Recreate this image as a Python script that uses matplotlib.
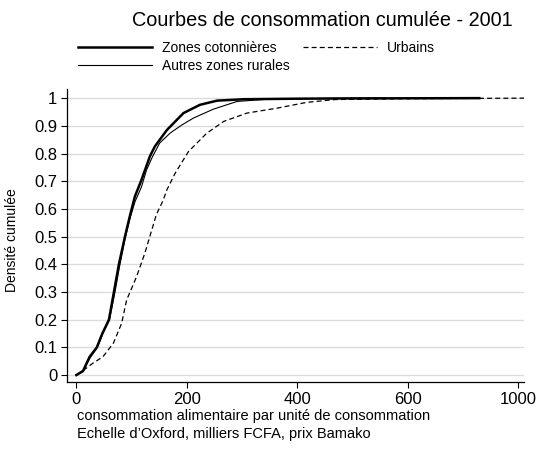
import matplotlib
matplotlib.use("Agg")
import matplotlib.pyplot as plt
from matplotlib.lines import Line2D

plt.rcParams['font.family'] = ['Liberation Sans', 'DejaVu Sans']

# Zones cotonnières (thick)
coton_x = [0, 12, 24, 37, 47, 59, 68, 77, 88, 97, 106, 118, 133, 142, 164, 194, 224, 255, 303, 400, 500, 730]
coton_y = [0, 0.015, 0.066, 0.10, 0.15, 0.20, 0.30, 0.40, 0.50, 0.575, 0.645, 0.705, 0.789, 0.825, 0.885, 0.946, 0.976, 0.991, 0.996, 0.998, 0.999, 1.0]

# Autres zones rurales (thin)
autres_x = [0, 12, 24, 38, 48, 60, 69, 78, 88, 97, 106, 118, 127, 138, 151, 170, 191, 212, 248, 291, 345, 450, 560]
autres_y = [0, 0.012, 0.06, 0.10, 0.15, 0.20, 0.29, 0.39, 0.49, 0.565, 0.625, 0.68, 0.74, 0.789, 0.838, 0.874, 0.903, 0.928, 0.96, 0.988, 0.996, 0.999, 1.0]

# Urbains (dashed)
urb_x = [0, 6, 30, 48, 67, 82, 91, 109, 124, 133, 145, 157, 164, 179, 203, 236, 267, 309, 364, 418, 470, 600, 811]
urb_y = [0, 0.007, 0.043, 0.066, 0.115, 0.187, 0.271, 0.355, 0.44, 0.50, 0.58, 0.63, 0.669, 0.729, 0.807, 0.873, 0.916, 0.946, 0.964, 0.985, 0.995, 0.998, 1.0]

xticks = [0, 200, 400, 600, 800]
xticklabels = ["0", "200", "400", "600", "1000"]
yticks = [0, 0.1, 0.2, 0.3, 0.4, 0.5, 0.6, 0.7, 0.8, 0.9, 1]
yticklabels = ["0", "0.1", "0.2", "0.3", "0.4", "0.5", "0.6", "0.7", "0.8", "0.9", "1"]

W, H = 536, 449
fig = plt.figure(figsize=(W / 100, H / 100), dpi=100)
ax = fig.add_axes([67 / W, 1 - 382 / H, (524 - 67) / W, (382 - 89) / H])

for yv in yticks:
    ax.axhline(yv, color='#dcdcdc', lw=1.0, zorder=0)

ax.plot(urb_x, urb_y, color='black', lw=0.9, ls=(0, (4, 2.5)), zorder=2)
ax.plot(autres_x, autres_y, color='black', lw=0.8, zorder=3)
ax.plot(coton_x, coton_y, color='black', lw=1.8, zorder=4)

ax.set_xlim(-17, 811)
ax.set_ylim(-0.025, 1.033)
ax.set_xticks(xticks)
ax.set_xticklabels(xticklabels)
ax.set_yticks(yticks)
ax.set_yticklabels(yticklabels)
ax.tick_params(axis='both', direction='out', length=4, width=0.8, labelsize=12, pad=3)
for s in ['top', 'right']:
    ax.spines[s].set_visible(False)
for s in ['left', 'bottom']:
    ax.spines[s].set_linewidth(0.9)

fig.text(322 / W, 1 - 20 / H, "Courbes de consommation cumulée - 2001", ha='center', va='center', fontsize=14.3)
fig.text(12 / W, 1 - 240 / H, "Densité cumulée", rotation=90, ha='center', va='center', fontsize=10)
fig.text(77 / W, 1 - 416 / H, "consommation alimentaire par unité de consommation", ha='left', va='center', fontsize=10.5)
fig.text(77 / W, 1 - 434 / H, "Echelle d’Oxford, milliers FCFA, prix Bamako", ha='left', va='center', fontsize=10.5)

handles = [
    Line2D([], [], color='black', lw=1.8),
    Line2D([], [], color='black', lw=0.8),
    Line2D([], [], color='black', lw=0.9, ls=(0, (4, 2.5))),
]
labels = ["Zones cotonnières", "Autres zones rurales", "Urbains"]
fig.legend(handles, labels, ncol=2, loc='upper left', bbox_to_anchor=(71 / W, 1 - 34 / H),
           frameon=False, fontsize=10, handlelength=5.3, handletextpad=0.72,
           columnspacing=1.0, borderpad=0, labelspacing=0.3)

fig.savefig("out.png", dpi=100)
